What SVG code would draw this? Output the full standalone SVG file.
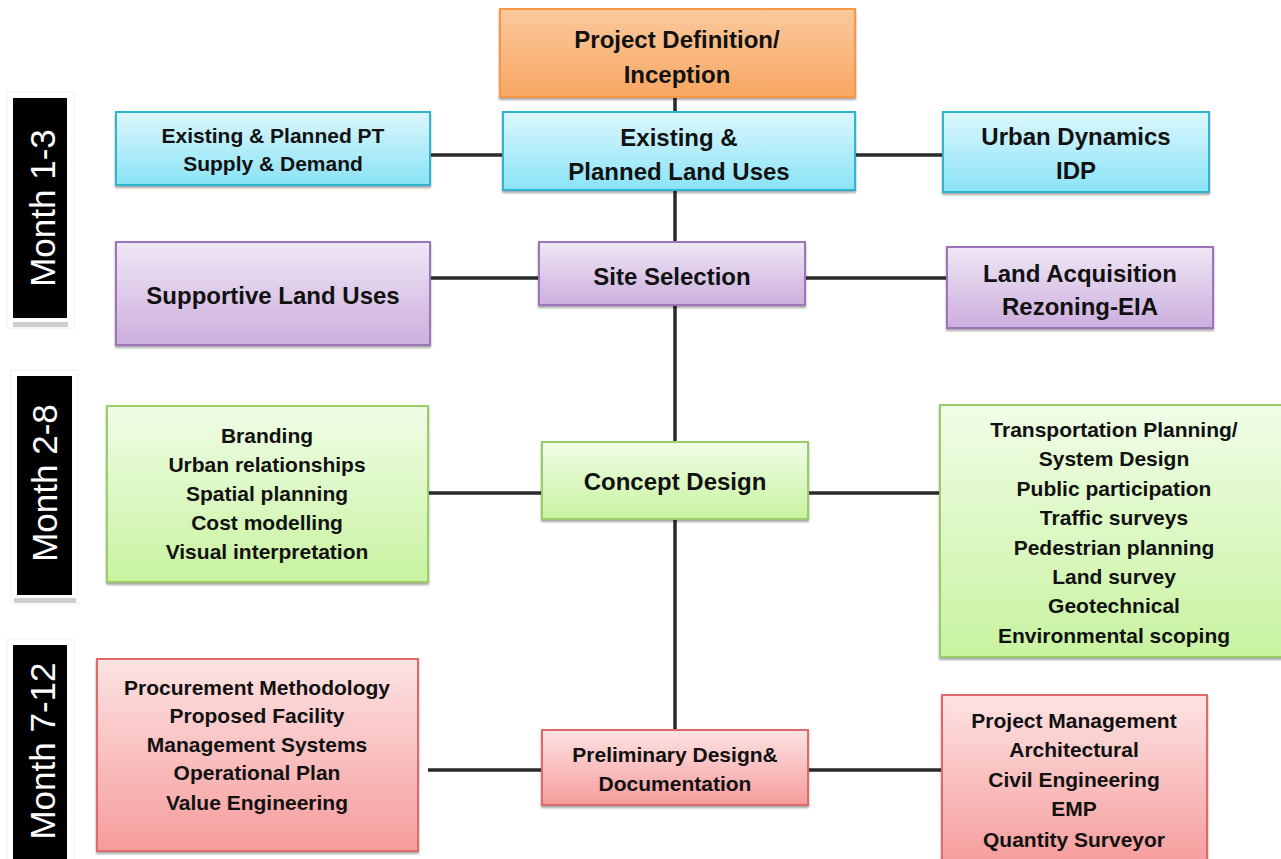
<svg xmlns="http://www.w3.org/2000/svg" width="1281" height="859" viewBox="0 0 1281 859">
  <defs>
    <linearGradient id="gOrange" x1="0" y1="0" x2="0" y2="1">
      <stop offset="0" stop-color="#fbc99d"/>
      <stop offset="1" stop-color="#f8a763"/>
    </linearGradient>
    <linearGradient id="gCyan" x1="0" y1="0" x2="0" y2="1">
      <stop offset="0" stop-color="#dcf7fd"/>
      <stop offset="1" stop-color="#8ae3f6"/>
    </linearGradient>
    <linearGradient id="gPurple" x1="0" y1="0" x2="0" y2="1">
      <stop offset="0" stop-color="#f0e7f6"/>
      <stop offset="1" stop-color="#ccaedd"/>
    </linearGradient>
    <linearGradient id="gGreen" x1="0" y1="0" x2="0" y2="1">
      <stop offset="0" stop-color="#f0fde7"/>
      <stop offset="1" stop-color="#c8f3a0"/>
    </linearGradient>
    <linearGradient id="gRed" x1="0" y1="0" x2="0" y2="1">
      <stop offset="0" stop-color="#fde3e3"/>
      <stop offset="1" stop-color="#f69c9c"/>
    </linearGradient>
    <filter id="shadow" x="-5%" y="-10%" width="110%" height="125%">
      <feDropShadow dx="0" dy="2" stdDeviation="1" flood-color="#000" flood-opacity="0.35"/>
    </filter>
  </defs>
  <style>
    .box { stroke-width: 2; filter: url(#shadow); }
    .orange { fill: url(#gOrange); stroke: #f79646; }
    .cyan { fill: url(#gCyan); stroke: #2fb6cf; }
    .purple { fill: url(#gPurple); stroke: #9c74b9; }
    .green { fill: url(#gGreen); stroke: #9acd6b; }
    .red { fill: url(#gRed); stroke: #e06a6a; }
    .lbl { font-family: "Liberation Sans", Arial, sans-serif; font-weight: bold; fill: #111; text-anchor: middle; }
    .big { font-size: 24px; }
    .small { font-size: 21px; }
    .month { font-family: "Liberation Sans", Arial, sans-serif; font-size: 35px; fill: #fff; text-anchor: middle; }
    .link { stroke: #2a2a2a; stroke-width: 3.5; fill: none; }
  </style>

  <rect width="1281" height="859" fill="#fff"/>

  <!-- month bands -->
  <g id="month-1-3">
    <rect x="7" y="92" width="67" height="236" fill="#fff" stroke="#f0f0f0"/>
    <rect x="13" y="322" width="55" height="5" fill="#cfcfcf"/>
    <rect x="13" y="98" width="54" height="220" fill="#000"/>
    <text class="month" transform="translate(55,208) rotate(-90)">Month 1-3</text>
  </g>
  <g id="month-2-8">
    <rect x="11" y="370" width="67" height="234" fill="#fff" stroke="#f0f0f0"/>
    <rect x="14" y="598" width="62" height="5" fill="#cfcfcf"/>
    <rect x="17" y="376" width="55" height="219" fill="#000"/>
    <text class="month" transform="translate(57,483) rotate(-90)">Month 2-8</text>
  </g>
  <g id="month-7-12">
    <rect x="7" y="639" width="67" height="230" fill="#fff" stroke="#f0f0f0"/>
    <rect x="13" y="645" width="54" height="220" fill="#000"/>
    <text class="month" transform="translate(55,751) rotate(-90)">Month 7-12</text>
  </g>

  <!-- connectors -->
  <g id="connectors">
    <line class="link" x1="675" y1="97" x2="675" y2="731"/>
    <line class="link" x1="430" y1="155" x2="503" y2="155"/>
    <line class="link" x1="855" y1="155" x2="943" y2="155"/>
    <line class="link" x1="430" y1="278" x2="539" y2="278"/>
    <line class="link" x1="805" y1="278" x2="947" y2="278"/>
    <line class="link" x1="428" y1="493" x2="542" y2="493"/>
    <line class="link" x1="808" y1="493" x2="940" y2="493"/>
    <line class="link" x1="428" y1="770" x2="542" y2="770"/>
    <line class="link" x1="808" y1="770" x2="942" y2="770"/>
  </g>

  <!-- nodes -->
  <g id="project-definition">
    <rect class="box orange" x="500" y="9" width="355" height="88"/>
    <text class="lbl big" x="677" y="48">Project Definition/</text>
    <text class="lbl big" x="677" y="83">Inception</text>
  </g>
  <g id="land-uses">
    <rect class="box cyan" x="503" y="112" width="352" height="78"/>
    <text class="lbl big" x="679" y="146">Existing &amp;</text>
    <text class="lbl big" x="679" y="180">Planned Land Uses</text>
  </g>
  <g id="pt-supply">
    <rect class="box cyan" x="116" y="112" width="314" height="73"/>
    <text class="lbl small" x="273" y="143">Existing &amp; Planned PT</text>
    <text class="lbl small" x="273" y="171">Supply &amp; Demand</text>
  </g>
  <g id="urban-dynamics">
    <rect class="box cyan" x="943" y="112" width="266" height="80"/>
    <text class="lbl big" x="1076" y="145">Urban Dynamics</text>
    <text class="lbl big" x="1076" y="179">IDP</text>
  </g>
  <g id="site-selection">
    <rect class="box purple" x="539" y="242" width="266" height="63"/>
    <text class="lbl big" x="672" y="285">Site Selection</text>
  </g>
  <g id="supportive-land-uses">
    <rect class="box purple" x="116" y="242" width="314" height="103"/>
    <text class="lbl big" x="273" y="304">Supportive Land Uses</text>
  </g>
  <g id="land-acquisition">
    <rect class="box purple" x="947" y="247" width="266" height="81"/>
    <text class="lbl big" x="1080" y="282">Land Acquisition</text>
    <text class="lbl big" x="1080" y="315">Rezoning-EIA</text>
  </g>
  <g id="concept-design">
    <rect class="box green" x="542" y="442" width="266" height="77"/>
    <text class="lbl big" x="675" y="490">Concept Design</text>
  </g>
  <g id="concept-left">
    <rect class="box green" x="107" y="406" width="321" height="176"/>
    <text class="lbl small" x="267" y="443">Branding</text>
    <text class="lbl small" x="267" y="472">Urban relationships</text>
    <text class="lbl small" x="267" y="501">Spatial planning</text>
    <text class="lbl small" x="267" y="530">Cost modelling</text>
    <text class="lbl small" x="267" y="559">Visual interpretation</text>
  </g>
  <g id="concept-right">
    <rect class="box green" x="940" y="405" width="345" height="252"/>
    <text class="lbl small" x="1114" y="437">Transportation Planning/</text>
    <text class="lbl small" x="1114" y="466">System Design</text>
    <text class="lbl small" x="1114" y="496">Public participation</text>
    <text class="lbl small" x="1114" y="525">Traffic surveys</text>
    <text class="lbl small" x="1114" y="555">Pedestrian planning</text>
    <text class="lbl small" x="1114" y="584">Land survey</text>
    <text class="lbl small" x="1114" y="613">Geotechnical</text>
    <text class="lbl small" x="1114" y="643">Environmental scoping</text>
  </g>
  <g id="preliminary-design">
    <rect class="box red" x="542" y="730" width="266" height="75"/>
    <text class="lbl small" x="675" y="762">Preliminary Design&amp;</text>
    <text class="lbl small" x="675" y="791">Documentation</text>
  </g>
  <g id="preliminary-left">
    <rect class="box red" x="97" y="659" width="321" height="192"/>
    <text class="lbl small" x="257" y="695">Procurement Methodology</text>
    <text class="lbl small" x="257" y="723">Proposed Facility</text>
    <text class="lbl small" x="257" y="752">Management Systems</text>
    <text class="lbl small" x="257" y="780">Operational Plan</text>
    <text class="lbl small" x="257" y="810">Value Engineering</text>
  </g>
  <g id="preliminary-right">
    <rect class="box red" x="942" y="695" width="265" height="170"/>
    <text class="lbl small" x="1074" y="728">Project Management</text>
    <text class="lbl small" x="1074" y="757">Architectural</text>
    <text class="lbl small" x="1074" y="787">Civil Engineering</text>
    <text class="lbl small" x="1074" y="816">EMP</text>
    <text class="lbl small" x="1074" y="847">Quantity Surveyor</text>
  </g>
</svg>
